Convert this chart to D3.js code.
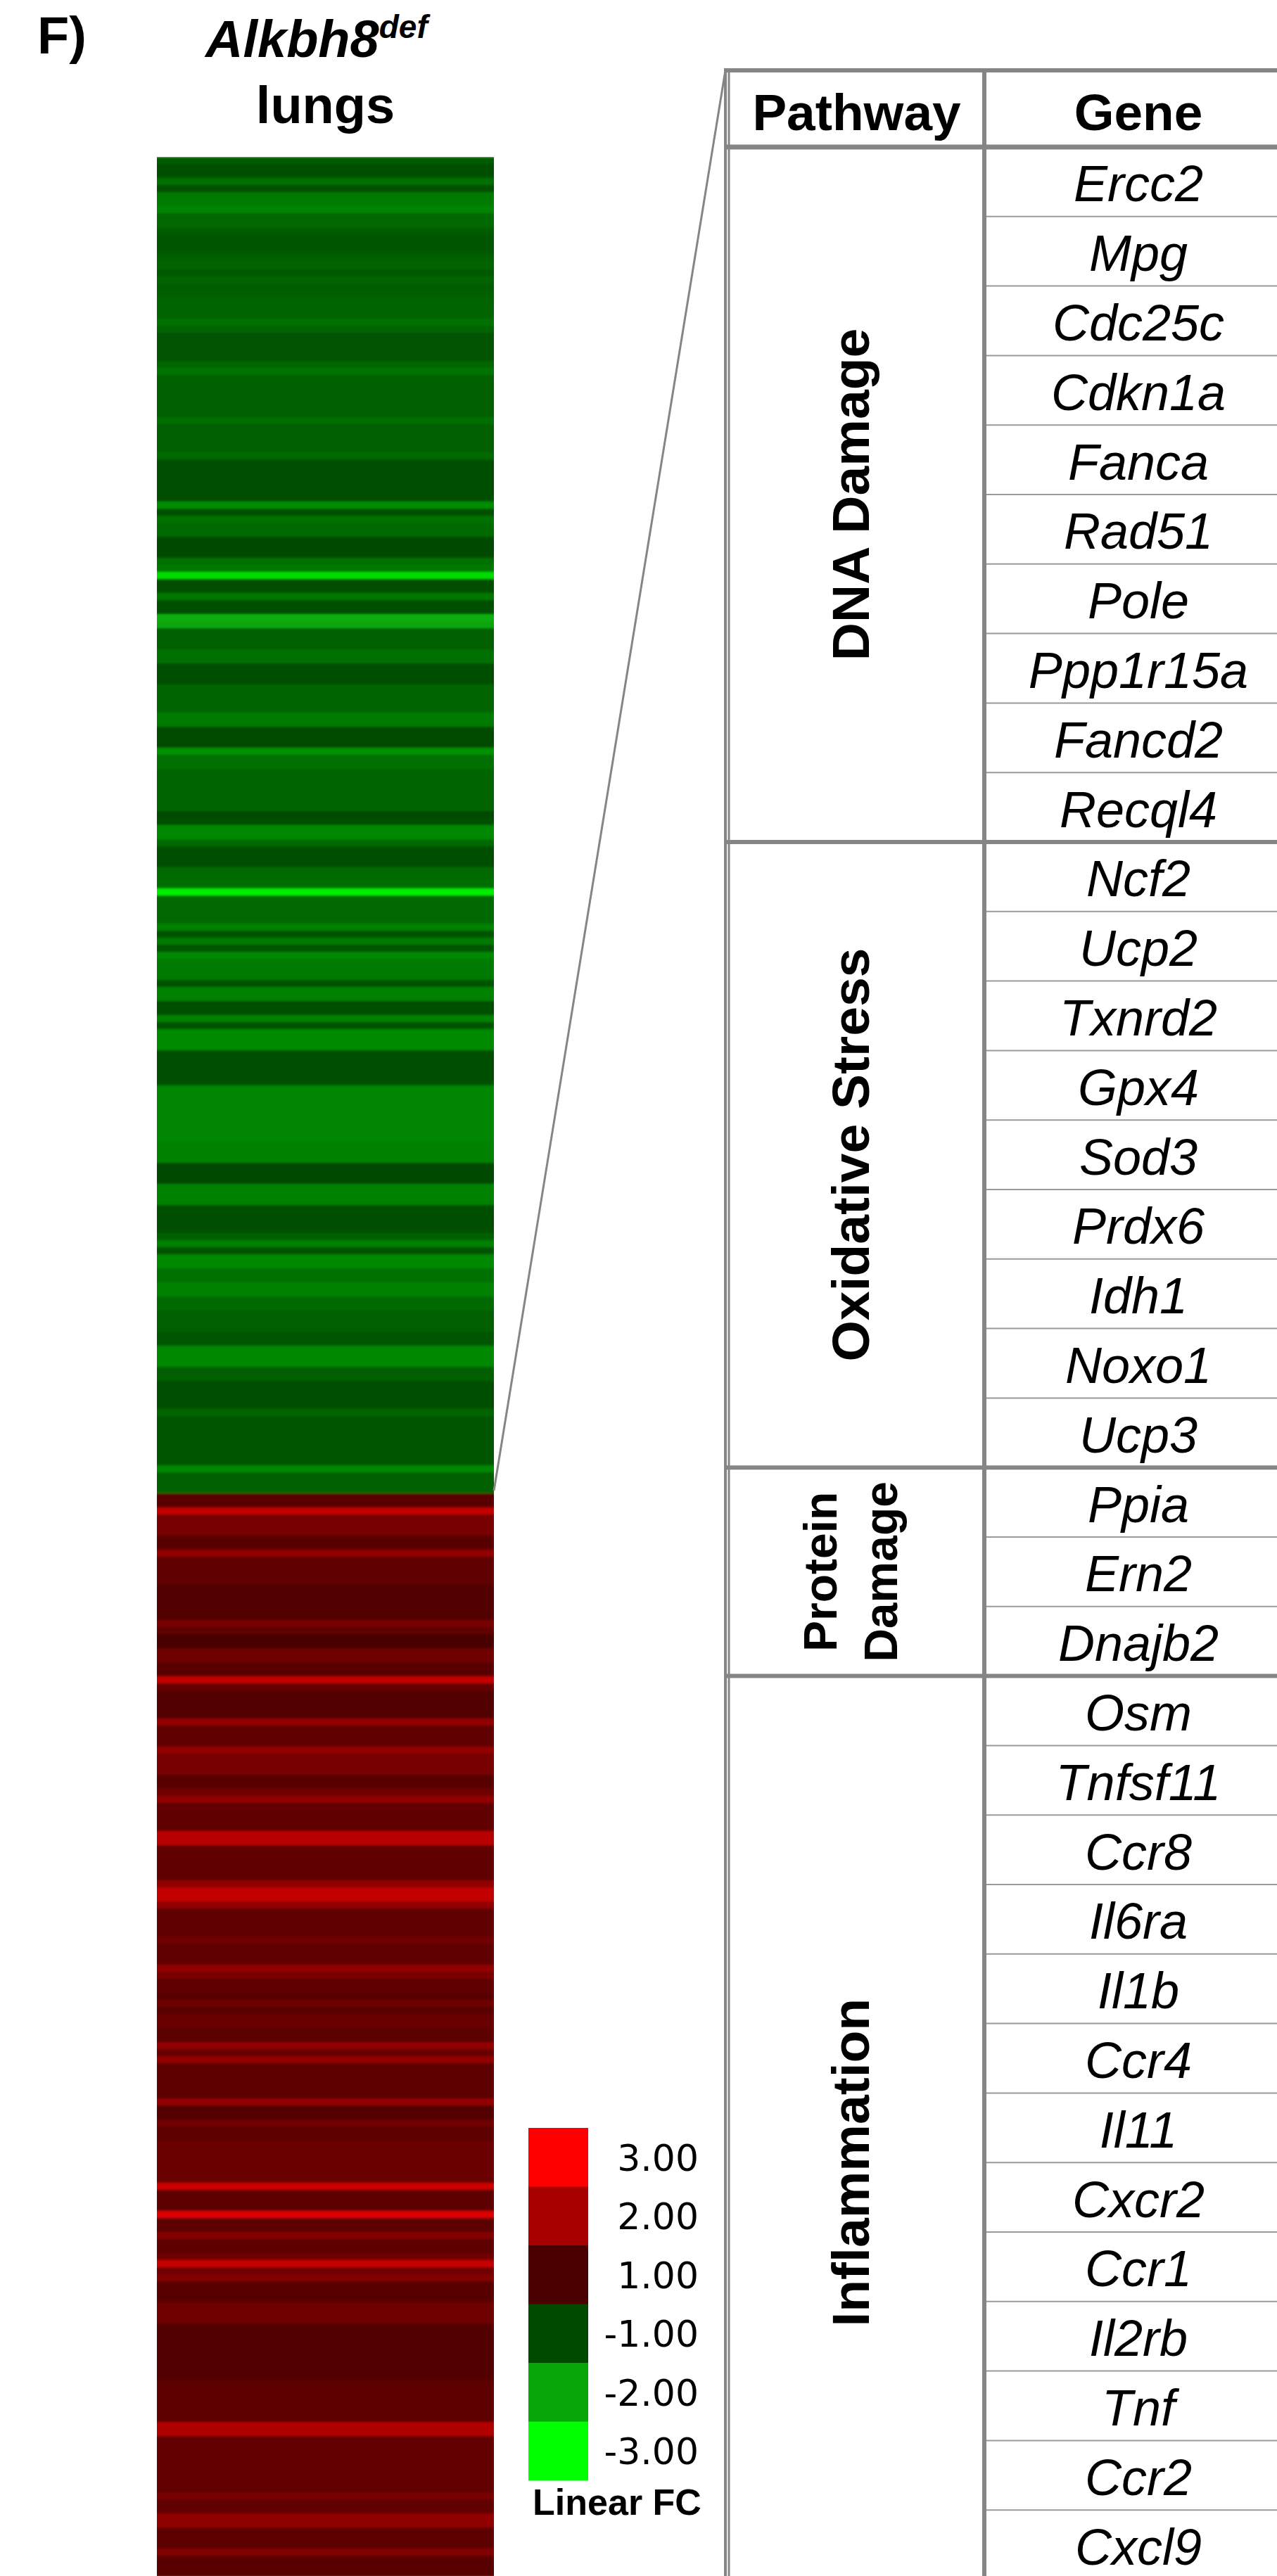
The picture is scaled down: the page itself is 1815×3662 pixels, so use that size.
<!doctype html>
<html>

<head>
  <meta charset="utf8"/>
  <style>
    body { margin: 0; background: #fff; }
    svg { display: block; }
  </style>
</head>

<body>
  <svg width='1815' height='3662'></svg>
  <script src="https://d3js.org/d3.v7.min.js"></script>

  <script>

    // linear fold change per gene row, top (down-regulated, green) part
    var downFC = [
      -1.2, -1.05, -1.05, -1.42, -1.05, -1.5, -1.55, -1.65, -1.35, -1.35,
      -1.2, -1.12, -1.12, -1.15, -1.25, -1.3, -1.15, -1.3, -1.2, -1.25,
      -1.3, -1.3, -1.3, -1.42, -1.3, -1.1, -1.1, -1.1, -1.1, -1.3,
      -1.45, -1.24, -1.24, -1.24, -1.24, -1.24, -1.24, -1.4, -1.24, -1.24,
      -1.24, -1.24, -1.35, -1.07, -1.07, -1.07, -1.07, -1.07, -1.07, -1.75,
      -1.05, -1.42, -1.35, -1.35, -1.0, -1.0, -1.0, -1.42, -1.5, -2.6,
      -1.05, -1.05, -1.5, -1.07, -1.07, -2.1, -2.0, -1.24, -1.24, -1.24,
      -1.42, -1.42, -1.07, -1.07, -1.07, -1.3, -1.3, -1.3, -1.3, -1.53,
      -1.53, -1.02, -1.02, -1.02, -1.77, -1.42, -1.42, -1.3, -1.3, -1.3,
      -1.3, -1.3, -1.3, -1.0, -1.05, -1.68, -1.68, -1.35, -1.07, -1.07,
      -1.07, -1.35, -1.35, -1.4, -2.8, -1.35, -1.35, -1.35, -1.35, -1.6,
      -1.1, -1.53, -1.1, -1.68, -1.53, -1.53, -1.53, -1.1, -1.6, -1.6,
      -1.07, -1.07, -1.6, -1.1, -1.7, -1.7, -1.7, -1.05, -1.05, -1.05,
      -1.05, -1.05, -1.66, -1.66, -1.66, -1.66, -1.66, -1.66, -1.66, -1.66,
      -1.6, -1.6, -1.6, -1.0, -1.0, -1.0, -1.6, -1.6, -1.6, -1.05,
      -1.05, -1.05, -1.05, -1.24, -1.6, -1.1, -1.68, -1.68, -1.42, -1.42,
      -1.6, -1.6, -1.35, -1.35, -1.24, -1.24, -1.24, -1.12, -1.12, -1.68,
      -1.68, -1.68, -1.24, -1.24, -1.07, -1.07, -1.07, -1.07, -1.3, -1.12,
      -1.12, -1.12, -1.12, -1.12, -1.12, -1.12, -1.68, -1.24, -1.24, -1.24
    ];

    // bottom (up-regulated, red) part
    var upFC = [
      1.15, 1.15, 2.3, 1.49, 1.49, 1.49, 1.15, 1.15, 1.75, 1.23,
      1.23, 1.23, 1.23, 1.08, 1.08, 1.08, 1.08, 1.08, 1.49, 1.23,
      1.0, 1.0, 1.4, 1.4, 1.15, 1.15, 2.3, 1.3, 1.08, 1.08,
      1.08, 1.08, 1.75, 1.23, 1.23, 1.23, 1.75, 1.49, 1.49, 1.49,
      1.15, 1.15, 1.4, 1.75, 1.23, 1.23, 1.23, 1.23, 2.2, 2.2,
      1.23, 1.23, 1.23, 1.23, 1.23, 1.75, 2.3, 2.3, 1.75, 1.23,
      1.23, 1.23, 1.23, 1.4, 1.23, 1.23, 1.23, 1.75, 1.5, 1.23,
      1.23, 1.15, 1.4, 1.15, 1.32, 1.32, 1.2, 1.2, 1.75, 1.3,
      1.75, 1.2, 1.2, 1.2, 1.2, 1.2, 1.75, 1.08, 1.08, 1.4,
      1.2, 1.2, 1.35, 1.35, 1.35, 1.35, 1.35, 1.35, 2.4, 1.2,
      1.2, 1.2, 2.6, 1.2, 1.2, 1.6, 1.2, 1.2, 1.4, 2.35,
      1.4, 1.6, 1.15, 1.15, 1.15, 1.38, 1.38, 1.38, 1.08, 1.08,
      1.08, 1.08, 1.08, 1.08, 1.08, 1.1, 1.2, 1.2, 1.2, 1.2,
      1.2, 1.2, 2.1, 2.1, 1.25, 1.25, 1.25, 1.25, 1.25, 1.25,
      1.25, 1.25, 1.49, 1.25, 1.25, 1.75, 1.75, 1.2, 1.2, 1.2,
      1.6, 1.15, 1.15, 1.15
    ];

    var legendValues = [3, 2, 1, -1, -2, -3];
    var legendColors = ['#ff0000', '#a80000', '#4a0000', '#004a00', '#08a508', '#00ff00'];

    var pathways = ['DNA Damage', 'Oxidative Stress', 'Protein\nDamage', 'Inflammation'];
    var pathwayRows = [10, 9, 3, 14];
    var genes = [
      'Ercc2', 'Mpg', 'Cdc25c', 'Cdkn1a', 'Fanca', 'Rad51', 'Pole', 'Ppp1r15a', 'Fancd2', 'Recql4',
      'Ncf2', 'Ucp2', 'Txnrd2', 'Gpx4', 'Sod3', 'Prdx6', 'Idh1', 'Noxo1', 'Ucp3',
      'Ppia', 'Ern2', 'Dnajb2',
      'Osm', 'Tnfsf11', 'Ccr8', 'Il6ra', 'Il1b', 'Ccr4', 'Il11', 'Cxcr2', 'Ccr1', 'Il2rb', 'Tnf', 'Ccr2', 'Cxcl9'
    ];

    var svg = d3.select('svg'),
        sans = '"Liberation Sans", Arial, sans-serif',
        grey = '#858585';

    var fcValues = downFC.concat(upFC);

    // ---- heatmap ----
    var hm = {left: 223, right: 702, top: 223, rowH: 10};

    var y = d3.scaleBand()
              .domain(d3.range(fcValues.length))
              .range([hm.top, hm.top + fcValues.length * hm.rowH]);

    var color = d3.scaleLinear()
                  .domain(legendValues.slice().reverse())
                  .range(legendColors.slice().reverse());

    var defs = svg.append('defs');
    defs.append('filter')
        .attr('id', 'soft')
        .attr('x', 0).attr('y', 0).attr('width', 1).attr('height', 1)
      .append('feGaussianBlur')
        .attr('stdDeviation', '0 1.6');

    svg.append('g')
       .attr('filter', 'url(#soft)')
       .selectAll('rect')
       .data(fcValues)
       .enter().append('rect')
         .attr('x', hm.left)
         .attr('width', hm.right - hm.left)
         .attr('y', function(d, i) { return y(i); })
         .attr('height', y.bandwidth() + 0.5)
         .attr('fill', function(d) { return color(d); });

    // title
    svg.append('text')
       .attr('x', 53).attr('y', 76)
       .attr('font-family', sans).attr('font-weight', 'bold')
       .attr('font-size', 74)
       .text('F)');

    var t = svg.append('text')
               .attr('x', 292).attr('y', 81)
               .attr('font-family', sans).attr('font-weight', 'bold')
               .attr('font-style', 'italic')
               .attr('font-size', 74);
    t.append('tspan').text('Alkbh8');
    t.append('tspan').attr('font-size', 46).attr('dy', -27).text('def');

    svg.append('text')
       .attr('x', (hm.left + hm.right) / 2).attr('y', 175)
       .attr('text-anchor', 'middle')
       .attr('font-family', sans).attr('font-weight', 'bold')
       .attr('font-size', 74)
       .text('lungs');

    // ---- legend ----
    var ly = d3.scaleBand()
               .domain(legendValues)
               .range([3025, 3526]);

    // plain hyphen for negatives, as in the figure
    var fmt = d3.formatLocale({decimal: '.', thousands: ',', grouping: [3],
                               currency: ['', ''], minus: '-'}).format('.2f');

    var legend = svg.append('g');
    legend.selectAll('rect')
          .data(legendValues)
          .enter().append('rect')
            .attr('x', 751).attr('width', 85)
            .attr('y', function(d) { return ly(d); })
            .attr('height', ly.bandwidth() + 0.5)
            .attr('fill', function(d) { return color(d); });

    legend.selectAll('text')
          .data(legendValues)
          .enter().append('text')
            .attr('x', 993)
            .attr('y', function(d) { return ly(d) + ly.bandwidth() / 2 + 19; })
            .attr('text-anchor', 'end')
            .attr('font-family', '"DejaVu Sans", sans-serif')
            .attr('font-size', 52)
            .text(fmt);

    legend.append('text')
          .attr('x', 877).attr('y', 3575)
          .attr('text-anchor', 'middle')
          .attr('font-family', sans).attr('font-weight', 'bold')
          .attr('font-size', 52)
          .text('Linear FC');

    // ---- table ----
    var tb = {left: 1031, inner: 1036, mid: 1399, right: 1837, top: 100, head: 209, rowH: 98.8};
    var totalRows = d3.sum(pathwayRows);

    var ry = d3.scaleBand()
               .domain(d3.range(totalRows))
               .range([tb.head, tb.head + totalRows * tb.rowH]);

    var starts = [0];
    pathwayRows.forEach(function(n, i) { starts.push(starts[i] + n); });

    var table = svg.append('g');

    // zoom line from the heatmap split to the table corner
    table.append('line')
         .attr('x1', tb.left).attr('y1', tb.top)
         .attr('x2', hm.right).attr('y2', y(downFC.length) - 4)
         .attr('stroke', grey).attr('stroke-width', 3);

    // thin gene row lines
    table.selectAll('.row')
         .data(d3.range(1, totalRows).filter(function(i) { return starts.indexOf(i) < 0; }))
         .enter().append('line')
           .attr('x1', tb.mid).attr('x2', tb.right)
           .attr('y1', function(i) { return ry(i); })
           .attr('y2', function(i) { return ry(i); })
           .attr('stroke', '#9a9a9a').attr('stroke-width', 2);

    // group separators
    table.selectAll('.sep')
         .data(starts.slice(1, -1))
         .enter().append('line')
           .attr('x1', tb.left).attr('x2', tb.right)
           .attr('y1', function(i) { return ry(i); })
           .attr('y2', function(i) { return ry(i); })
           .attr('stroke', grey).attr('stroke-width', 6);

    table.append('line')
         .attr('x1', tb.left).attr('x2', tb.right)
         .attr('y1', tb.head).attr('y2', tb.head)
         .attr('stroke', grey).attr('stroke-width', 7);
    table.append('line')
         .attr('x1', tb.left - 2).attr('x2', tb.right)
         .attr('y1', tb.top).attr('y2', tb.top)
         .attr('stroke', grey).attr('stroke-width', 6);
    table.append('line')
         .attr('x1', tb.left).attr('x2', tb.left)
         .attr('y1', tb.top).attr('y2', 3662)
         .attr('stroke', grey).attr('stroke-width', 4);
    table.append('line')
         .attr('x1', tb.inner).attr('x2', tb.inner)
         .attr('y1', tb.top).attr('y2', 3662)
         .attr('stroke', grey).attr('stroke-width', 3);
    table.append('line')
         .attr('x1', tb.mid).attr('x2', tb.mid)
         .attr('y1', tb.top).attr('y2', 3662)
         .attr('stroke', grey).attr('stroke-width', 6);

    // header
    table.append('text')
         .attr('x', (tb.inner + tb.mid) / 2).attr('y', 185)
         .attr('text-anchor', 'middle')
         .attr('font-family', sans).attr('font-weight', 'bold')
         .attr('font-size', 73)
         .text('Pathway');
    table.append('text')
         .attr('x', 1618).attr('y', 185)
         .attr('text-anchor', 'middle')
         .attr('font-family', sans).attr('font-weight', 'bold')
         .attr('font-size', 73)
         .text('Gene');

    // gene names
    table.selectAll('.gene')
         .data(genes)
         .enter().append('text')
           .attr('x', 1618)
           .attr('y', function(d, i) { return ry(i) + ry.bandwidth() / 2 + 28; })
           .attr('text-anchor', 'middle')
           .attr('font-family', sans).attr('font-style', 'italic')
           .attr('font-size', 72)
           .text(function(d) { return d; });

    // rotated pathway names
    pathways.forEach(function(name, i) {
      var cy = (ry(starts[i]) + ry(starts[i + 1] - 1) + ry.bandwidth()) / 2,
          lines = name.split('\n'),
          size = lines.length > 1 ? 66 : 75,
          gap = 86;
      lines.forEach(function(line, k) {
        var cx = 1208 + (k - (lines.length - 1) / 2) * gap;
        table.append('text')
             .attr('transform', 'translate(' + cx + ',' + cy + ') rotate(-90)')
             .attr('dy', '0.36em')
             .attr('text-anchor', 'middle')
             .attr('font-family', sans).attr('font-weight', 'bold')
             .attr('font-size', size)
             .text(line);
      });
    });

  </script>
</body>

</html>
